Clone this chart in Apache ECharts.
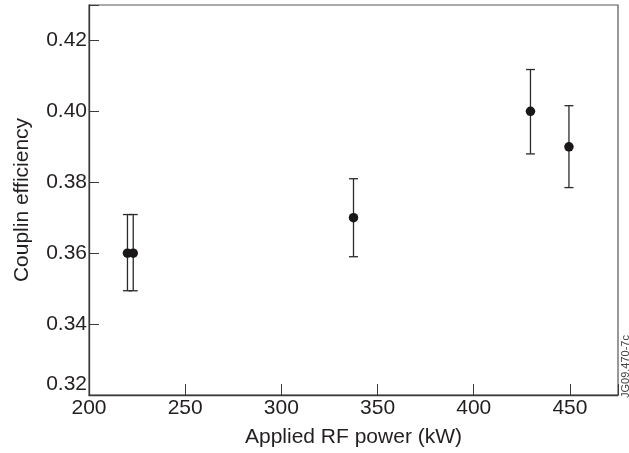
<!DOCTYPE html>
<html>
<head>
<meta charset="utf-8">
<script src="https://cdn.jsdelivr.net/npm/echarts@6/dist/echarts.min.js"></script>
<style>
html,body{margin:0;padding:0;background:#fff;}
#chart{width:629px;height:453px;}
</style>
</head>
<body>
<div id="chart"></div>
<script>
// Data
var powerKW   = [220, 223, 337.5, 429.5, 449.5];
var coupling  = [0.360, 0.360, 0.370, 0.400, 0.390];
var errLow    = [0.3494, 0.3494, 0.3590, 0.3880, 0.3785];
var errHigh   = [0.3709, 0.3709, 0.3810, 0.4118, 0.4016];
var xTicks = [200, 250, 300, 350, 400, 450];
var yTicks = [0.32, 0.34, 0.36, 0.38, 0.40, 0.42];

var points = powerKW.map(function (x, i) { return [x, coupling[i]]; });
var bars = powerKW.map(function (x, i) { return [x, errLow[i], errHigh[i]]; });

var FONT = '"Liberation Sans", Arial, Helvetica, sans-serif';
var TXT = '#231f20';
var AX = '#3a3a3a';

var chart = echarts.init(document.getElementById('chart'), null, {renderer: 'canvas'});
chart.setOption({
  animation: false,
  backgroundColor: '#fff',
  grid: {left: 89, right: 11, top: 5, bottom: 58, show: true, borderColor: '#555', borderWidth: 1.2},
  xAxis: {
    type: 'value', min: 200, max: 475, interval: 50,
    name: 'Applied RF power (kW)', nameLocation: 'middle', nameGap: 32,
    nameTextStyle: {fontFamily: FONT, fontSize: 21, color: TXT},
    axisLine: {show: true, lineStyle: {color: AX, width: 1.3}},
    axisTick: {show: true, inside: true, length: 11, lineStyle: {color: AX, width: 1}},
    axisLabel: {fontFamily: FONT, fontSize: 21, color: TXT, margin: 3,
      formatter: function (v) { return xTicks.indexOf(v) >= 0 ? String(v) : ''; }},
    splitLine: {show: false}
  },
  yAxis: {
    type: 'value', min: 0.32, max: 0.43, interval: 0.02,
    name: 'Couplin efficiency', nameLocation: 'middle', nameGap: 56, nameRotate: 90,
    nameTextStyle: {fontFamily: FONT, fontSize: 21, color: TXT},
    axisLine: {show: true, lineStyle: {color: AX, width: 1.3}},
    axisTick: {show: true, inside: true, length: 10, lineStyle: {color: AX, width: 1}},
    axisLabel: {fontFamily: FONT, fontSize: 21, color: TXT, margin: 2,
      rich: {low: {fontFamily: FONT, fontSize: 21, color: TXT, padding: [0, 0, 22, 0]}},
      formatter: function (v) {
        for (var i = 0; i < yTicks.length; i++) {
          if (Math.abs(yTicks[i] - v) < 1e-9) {
            var s = yTicks[i].toFixed(2);
            return i === 0 ? '{low|' + s + '}' : s;
          }
        }
        return '';
      }},
    splitLine: {show: false}
  },
  series: [
    {
      type: 'custom',
      data: bars,
      z: 2,
      renderItem: function (params, api) {
        var x = api.value(0);
        var lo = api.coord([x, api.value(1)]);
        var hi = api.coord([x, api.value(2)]);
        var hw = 4.5;
        var st = {stroke: '#2a2a2a', lineWidth: 1.3};
        return {
          type: 'group',
          children: [
            {type: 'line', shape: {x1: lo[0], y1: lo[1], x2: hi[0], y2: hi[1]}, style: st},
            {type: 'line', shape: {x1: hi[0] - hw, y1: hi[1], x2: hi[0] + hw, y2: hi[1]}, style: st},
            {type: 'line', shape: {x1: lo[0] - hw, y1: lo[1], x2: lo[0] + hw, y2: lo[1]}, style: st}
          ]
        };
      }
    },
    {
      type: 'scatter',
      data: points,
      z: 3,
      symbol: 'circle',
      symbolSize: 9.5,
      itemStyle: {color: '#1a1718', opacity: 1}
    }
  ],
  graphic: [{
    type: 'text',
    x: 620, y: 398,
    rotation: Math.PI / 2,
    style: {text: 'JG09.470-7c', font: '11px ' + FONT, fill: '#444', textAlign: 'left', textVerticalAlign: 'top'}
  }]
});
</script>
</body>
</html>
